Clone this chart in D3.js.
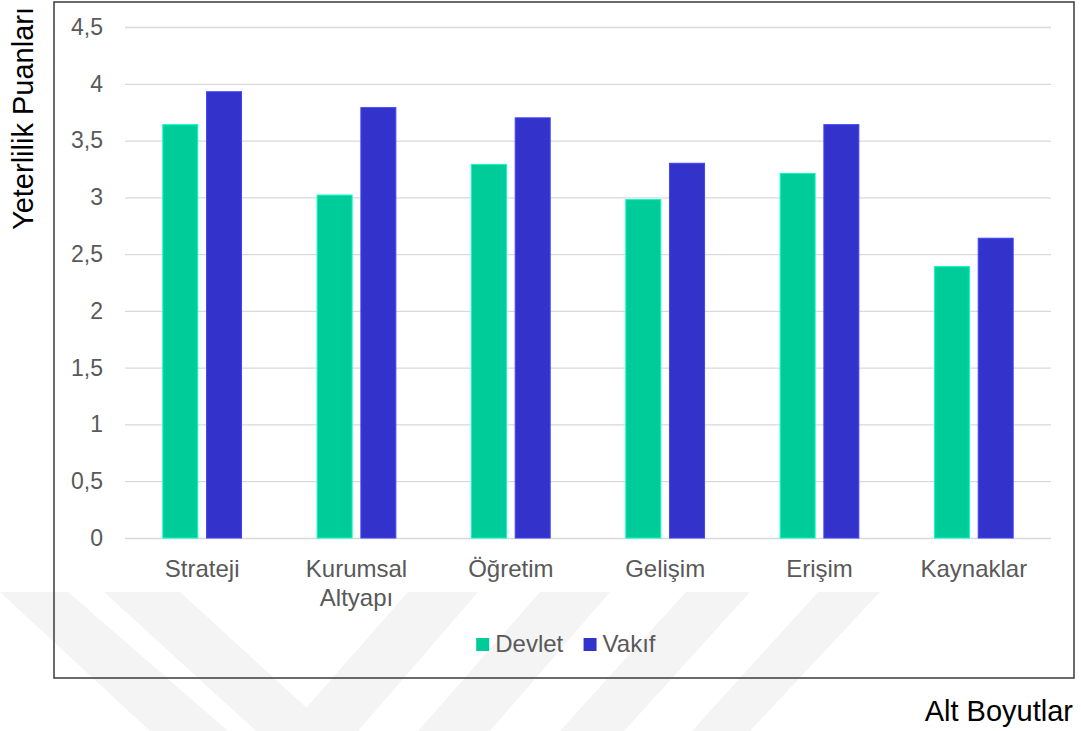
<!DOCTYPE html>
<html>
<head>
<meta charset="utf-8">
<script src="https://cdn.jsdelivr.net/npm/d3@7"></script>
<style>
  body { margin: 0; background: #fff; }
  svg { display: block; font-family: "Liberation Sans", Arial, sans-serif; }
</style>
</head>
<body>
<svg width="1081" height="731"></svg>
<script>
// data
const categories = ['Strateji', 'Kurumsal\nAltyapı', 'Öğretim', 'Gelişim', 'Erişim', 'Kaynaklar'];
const series = ['Devlet', 'Vakıf'];
const devlet = [3.64, 3.02, 3.29, 2.98, 3.21, 2.39];
const vakif = [3.93, 3.79, 3.70, 3.30, 3.64, 2.64];
const yTicks = [0, 0.5, 1, 1.5, 2, 2.5, 3, 3.5, 4, 4.5];
const colors = ['#00CC99', '#3333CC'];

const data = categories.map((c, i) => ({ cat: c, values: [devlet[i], vakif[i]] }));

const svg = d3.select('svg');
const margin = { top: 27, right: 30, bottom: 193, left: 125 };
const width = 1081 - margin.left - margin.right;
const height = 731 - margin.top - margin.bottom;

// faint watermark stripes in the lower part of the page
const stripes = [
  [[0, 592], [68, 592], [228, 731], [150, 731]],
  [[104, 592], [180, 592], [332, 731], [256, 731]],
  [[408, 592], [478, 592], [358, 731], [286, 731]],
  [[540, 592], [610, 592], [490, 731], [418, 731]],
  [[686, 592], [750, 592], [624, 731], [560, 731]],
  [[818, 592], [880, 592], [750, 731], [692, 731]]
];
svg.append('g').selectAll('polygon')
  .data(stripes)
  .enter().append('polygon')
  .attr('points', d => d.map(p => p.join(',')).join(' '))
  .attr('fill', '#f4f4f4');

// chart frame
svg.append('rect')
  .attr('x', 54).attr('y', 2)
  .attr('width', 1020).attr('height', 676)
  .attr('fill', 'none')
  .attr('stroke', '#3a3a3a')
  .attr('stroke-width', 1.5);

const g = svg.append('g')
  .attr('transform', `translate(${margin.left},${margin.top})`);

const x0 = d3.scaleBand()
  .domain(categories)
  .range([0, width])
  .paddingInner(0.49)
  .paddingOuter(0.245);
const x1 = d3.scaleBand()
  .domain(series)
  .range([0, x0.bandwidth()])
  .paddingInner(0.2);
const y = d3.scaleLinear()
  .domain([0, 4.5])
  .range([height, 0]);

const trFormat = d3.formatLocale({ decimal: ',', thousands: '.', grouping: [3], currency: ['', '₺'] }).format('~g');

// y axis with grid lines
const yAxis = g.append('g')
  .attr('class', 'axis axis--y')
  .call(d3.axisLeft(y).tickValues(yTicks).tickSize(-width).tickPadding(22).tickFormat(trFormat));
yAxis.select('.domain').remove();
yAxis.selectAll('line').attr('stroke', '#d9d9d9').attr('stroke-width', 1.3);
yAxis.selectAll('text')
  .attr('fill', '#595959')
  .attr('font-size', 23)
  .attr('font-family', '"Liberation Sans", Arial, sans-serif');

// x axis labels
const xAxis = g.append('g')
  .attr('class', 'axis axis--x')
  .attr('transform', `translate(0,${height})`)
  .call(d3.axisBottom(x0).tickSize(0).tickPadding(22));
xAxis.select('.domain').remove();
xAxis.selectAll('text')
  .attr('fill', '#595959')
  .attr('font-size', 24)
  .attr('font-family', '"Liberation Sans", Arial, sans-serif')
  .each(function (d) {
    const t = d3.select(this);
    t.text(null);
    d.split('\n').forEach((line, i) => {
      t.append('tspan')
        .attr('x', 0)
        .attr('dy', i === 0 ? '0.71em' : '1.2em')
        .text(line);
    });
  })
  .attr('dy', null);

// bars
g.append('g').selectAll('g')
  .data(data)
  .enter().append('g')
  .attr('transform', d => `translate(${x0(d.cat)},0)`)
  .selectAll('rect')
  .data(d => d.values.map((v, i) => ({ s: series[i], v: v, c: colors[i] })))
  .enter().append('rect')
  .attr('class', 'bar')
  .attr('x', d => x1(d.s))
  .attr('y', d => y(d.v))
  .attr('width', x1.bandwidth())
  .attr('height', d => height - y(d.v))
  .attr('fill', d => d.c)
  .attr('stroke', d => d3.color(d.c).brighter(0.7))
  .attr('stroke-width', 1);

// legend, centred in the frame
const legend = svg.append('g').attr('transform', 'translate(0,652)');
const items = legend.selectAll('g')
  .data(series)
  .enter().append('g');
items.append('rect')
  .attr('y', -14)
  .attr('width', 13)
  .attr('height', 13)
  .attr('fill', (d, i) => colors[i]);
items.append('text')
  .attr('x', 19)
  .attr('font-size', 24)
  .attr('fill', '#595959')
  .text(d => d);
let lx = 0;
const offsets = [];
items.each(function () {
  offsets.push(lx);
  lx += this.getBBox().width + 20;
});
const total = lx - 20;
items.attr('transform', (d, i) => `translate(${566 - total / 2 + offsets[i]},0)`);

// axis titles
svg.append('text')
  .attr('transform', 'translate(33,230) rotate(-90)')
  .attr('font-size', 29)
  .attr('fill', '#000')
  .text('Yeterlilik Puanları');

svg.append('text')
  .attr('x', 1073)
  .attr('y', 721)
  .attr('text-anchor', 'end')
  .attr('font-size', 29)
  .attr('fill', '#000')
  .text('Alt Boyutlar');
</script>
</body>
</html>
